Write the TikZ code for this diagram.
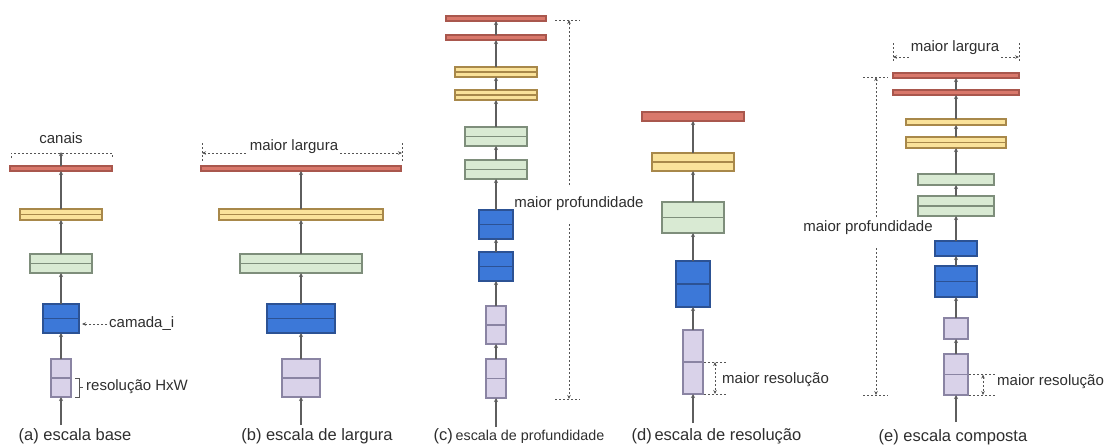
\documentclass[tikz,border=0pt]{standalone}
\usepackage{fontspec}
\setmainfont{Liberation Sans}
\usetikzlibrary{arrows.meta}

\definecolor{redf}{HTML}{D9786B}\definecolor{redd}{HTML}{A9574D}
\definecolor{yelf}{HTML}{FAE29A}\definecolor{yeld}{HTML}{A8884A}
\definecolor{grnf}{HTML}{D9EAD3}\definecolor{grnd}{HTML}{7E8E7B}
\definecolor{bluf}{HTML}{3C78D8}\definecolor{blud}{HTML}{2C5294}
\definecolor{purf}{HTML}{D9D2E9}\definecolor{purd}{HTML}{8A84A3}
\definecolor{wire}{HTML}{5E5E5E}
\definecolor{notec}{HTML}{555555}
\definecolor{ink}{HTML}{2E2E2E}

% one layer block, given by its corners: name, style, x1, y1, x2, y2
\newcommand\layerbox[6]{%
  \pgfmathsetmacro\lbw{#5-#3}\pgfmathsetmacro\lbh{#6-#4}%
  \pgfmathsetmacro\lbx{(#3+#5)/2}\pgfmathsetmacro\lby{(#4+#6)/2}%
  \node[#2, minimum width=\lbw pt, minimum height=\lbh pt] (#1) at (\lbx,\lby) {};}

\tikzset{
  layer/.style={draw, line width=1.2pt, inner sep=0pt, outer sep=0pt},
  split/.style={path picture={\draw[line width=1.2pt, draw=#1]
      (path picture bounding box.west) -- (path picture bounding box.east);}},
  redbox/.style={layer, fill=redf, draw=redd},
  yelbox/.style={layer, fill=yelf, draw=yeld},
  yelsplit/.style={yelbox, split=yeld},
  grnbox/.style={layer, fill=grnf, draw=grnd},
  grnsplit/.style={grnbox, split=grnd},
  blubox/.style={layer, fill=bluf, draw=blud},
  blusplit/.style={blubox, split=blud},
  purbox/.style={layer, fill=purf, draw=purd},
  pursplit/.style={purbox, split=purd},
  conn/.style={draw=wire, line width=1.3pt, -{Stealth[length=4pt,width=4pt]}},
  note/.style={draw=notec, line width=0.8pt, dash pattern=on 2pt off 2pt},
  ntip/.tip={Stealth[length=4pt,width=3.5pt]},
  lbl/.style={font=\fontsize{15}{18}\selectfont, text=ink, inner sep=0pt},
  captxt/.style={font=\fontsize{16.5}{20}\selectfont, text=ink, inner sep=0pt},
}

\begin{document}
\begin{tikzpicture}[x=1pt,y=-1pt]
\useasboundingbox (0,0) rectangle (1112,445);

% ---------- (a) baseline ----------
\layerbox{a1}{redbox}{10}{166}{112}{171}
\layerbox{a2}{yelsplit}{20}{209}{102}{220}
\layerbox{a3}{grnsplit}{30}{254}{92}{273}
\layerbox{a4}{blusplit}{43}{304}{79}{333}
\layerbox{a5}{pursplit}{51}{359}{71}{397}
\coordinate (a0) at (61,425);
\coordinate (atop) at (61,152);
\draw[conn] (a0) -- (a5.south);
\foreach \lo/\hi in {a5/a4,a4/a3,a3/a2,a2/a1} \draw[conn] (\lo.north) -- (\hi.south);
\draw[conn] (a1.north) -- (atop);
\node[lbl] (canais) at (61,138) {canais};
\draw[note] (11,158) -- (11,153) -- (112,153) -- (112,158);
\node[lbl, anchor=west] (camada) at (109,324) {camada\_i};
\coordinate (camtail) at (107,324);
\coordinate (camhead) at (82,324);
\draw[note, -ntip] (camtail) -- (camhead);
\draw[draw=notec, line width=0.8pt] (75,378) -- (79,378) -- (79,397) -- (75,397)
      (79,387.5) -- (83,387.5);
\node[lbl, anchor=west] (hxw) at (86,387) {resolução HxW};
\node[captxt] (capa) at (75,436) {(a) escala base};

% ---------- (b) width scaling ----------
\layerbox{b1}{redbox}{201}{166}{401}{171}
\layerbox{b2}{yelsplit}{219}{209}{383}{220}
\layerbox{b3}{grnsplit}{240}{254}{362}{273}
\layerbox{b4}{blusplit}{267}{304}{335}{333}
\layerbox{b5}{pursplit}{282}{359}{320}{397}
\coordinate (b0) at (301,425);
\draw[conn] (b0) -- (b5.south);
\foreach \lo/\hi in {b5/b4,b4/b3,b3/b2,b2/b1} \draw[conn] (\lo.north) -- (\hi.south);
\node[lbl] (wb) at (294,147) {maior largura};
\draw[note] (202,143) -- (202,161) (402,143) -- (402,161);
\draw[note, ntip-] (202,153) -- (248,153);
\draw[note, -ntip] (340,153) -- (402,153);
\node[captxt] (capb) at (317,436) {(b) escala de largura};

% ---------- (c) depth scaling ----------
\layerbox{c1}{redbox}{446}{16}{546}{21}
\layerbox{c2}{redbox}{446}{35}{546}{40}
\layerbox{c3}{yelsplit}{455}{67}{537}{77}
\layerbox{c4}{yelsplit}{455}{90}{537}{100}
\layerbox{c5}{grnsplit}{465}{127}{527}{146}
\layerbox{c6}{grnsplit}{465}{160}{527}{179}
\layerbox{c7}{blusplit}{479}{210}{513}{239}
\layerbox{c8}{blusplit}{479}{252}{513}{281}
\layerbox{c9}{pursplit}{486}{306}{506}{344}
\layerbox{c10}{pursplit}{486}{359}{506}{398}
\coordinate (c0) at (496,427);
\draw[conn] (c0) -- (c10.south);
\foreach \lo/\hi in {c10/c9,c9/c8,c8/c7,c7/c6,c6/c5,c5/c4,c4/c3,c3/c2,c2/c1}
  \draw[conn] (\lo.north) -- (\hi.south);
\node[lbl] (dc) at (579,204) {maior profundidade};
\draw[note] (555,20) -- (580,20) (555,399) -- (580,399);
\draw[note, -ntip] (569,185) -- (569,20);
\draw[note, -ntip] (569,224) -- (569,399);
\node[captxt] (capc) at (519,436)
  {(c)\,{\fontsize{14.3}{17}\selectfont escala de profundidade}};

% ---------- (d) resolution scaling ----------
\layerbox{d1}{redbox}{642}{112}{744}{121}
\layerbox{d2}{yelsplit}{652}{153}{734}{171}
\layerbox{d3}{grnsplit}{662}{202}{724}{233}
\layerbox{d4}{blusplit}{676}{261}{710}{307}
\layerbox{d5}{pursplit}{683}{330}{703}{394}
\coordinate (d0) at (693,423);
\draw[conn] (d0) -- (d5.south);
\foreach \lo/\hi in {d5/d4,d4/d3,d3/d2,d2/d1} \draw[conn] (\lo.north) -- (\hi.south);
\draw[note] (704,362) -- (727,362) (704,394) -- (727,394);
\draw[note, ntip-ntip] (715,362) -- (715,394);
\node[lbl, anchor=west] (rd) at (722,380) {maior resolução};
\node[captxt] (capd) at (716.5,436) {(d)\,escala de resolução};

% ---------- (e) compound scaling ----------
\layerbox{e1}{redbox}{893}{73}{1019}{78}
\layerbox{e2}{redbox}{893}{90}{1019}{95}
\layerbox{e3}{yelbox}{906}{119}{1006}{125}
\layerbox{e4}{yelsplit}{906}{137}{1006}{148}
\layerbox{e5}{grnbox}{918}{174}{994}{185}
\layerbox{e6}{grnsplit}{918}{196}{994}{216}
\layerbox{e7}{blubox}{935}{241}{977}{256}
\layerbox{e8}{blusplit}{935}{266}{977}{297}
\layerbox{e9}{purbox}{944}{318}{968}{339}
\layerbox{e10}{pursplit}{944}{354}{968}{395}
\coordinate (e0) at (956,422);
\draw[conn] (e0) -- (e10.south);
\foreach \lo/\hi in {e10/e9,e9/e8,e8/e7,e7/e6,e6/e5,e5/e4,e4/e3,e3/e2,e2/e1}
  \draw[conn] (\lo.north) -- (\hi.south);
\node[lbl] (we) at (955,48) {maior largura};
\draw[note] (893,43) -- (893,62) (1019,43) -- (1019,62);
\draw[note, ntip-] (893,57) -- (909,57);
\draw[note, -ntip] (1001,57) -- (1019,57);
\node[lbl] (de) at (868,228) {maior profundidade};
\draw[note] (863,77) -- (888,77) (863,395) -- (888,395);
\draw[note, -ntip] (876,217) -- (876,77);
\draw[note, -ntip] (876,248) -- (876,395);
\draw[note] (969,374.5) -- (996,374.5) (969,395) -- (996,395);
\draw[note, ntip-ntip] (983,374.5) -- (983,395);
\node[lbl, anchor=west] (re) at (997,382) {maior resolução};
\node[captxt] (cape) at (953,437) {(e) escala composta};
\end{tikzpicture}
\end{document}
